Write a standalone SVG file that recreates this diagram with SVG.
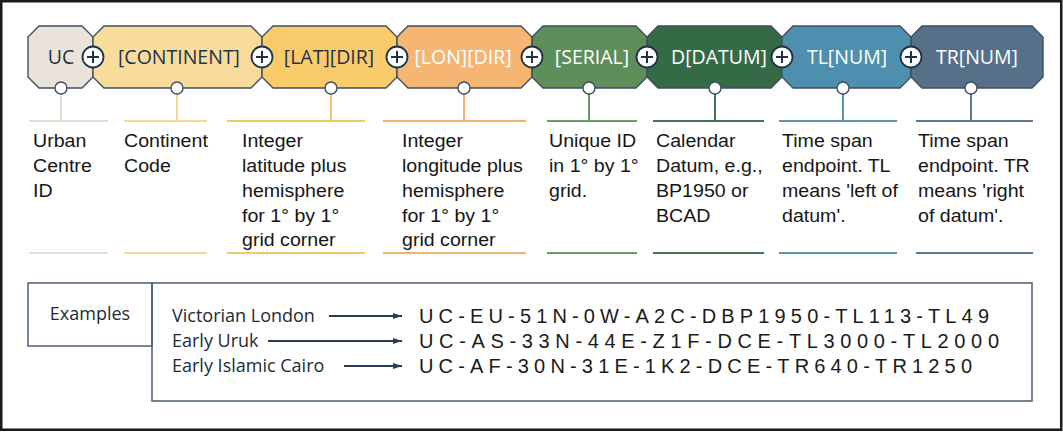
<svg xmlns="http://www.w3.org/2000/svg" width="1063" height="432" viewBox="0 0 1063 432">
<style>
.oct{stroke:#3d4f60;stroke-width:1.4}
.lbl{font-family:"Open Sans","DejaVu Sans",sans-serif;font-size:19.5px;text-anchor:middle}
.dk{fill:#1e3247}
.wt{fill:#ffffff}
.plus circle{fill:#fff;stroke:#1e3247;stroke-width:1.8}
.plus path{stroke:#1e3247;stroke-width:2;fill:none}
.dot{fill:#fff;stroke:#3d4f60;stroke-width:1.4}
.desc{font-family:"Liberation Sans",Arial,sans-serif;font-size:17.5px;fill:#161616}
.conn line{stroke-width:2}
.ex{font-family:"Open Sans","DejaVu Sans",sans-serif;font-size:18px;fill:#1e2a36}
.code{font-family:"Liberation Sans",Arial,sans-serif;font-size:20px;fill:#1a1a1a}
.arr{stroke:#2a3d50;stroke-width:1.3;fill:none}
.box{fill:none;stroke:#4b5f72;stroke-width:1.5}
</style>
<defs>
<marker id="ah" markerUnits="userSpaceOnUse" markerWidth="10" markerHeight="8" refX="9" refY="4" orient="auto">
<path d="M0,1 L9,4 L0,7 Z" fill="#2a3d50"/>
</marker>
</defs>
<rect x="1.25" y="1.25" width="1060" height="428.5" fill="#fff" stroke="#1a1a1a" stroke-width="2.5"/>

<g id="connectors" class="conn">
<line x1="61" y1="94" x2="61" y2="121" stroke="#e6ded3"/>
<line x1="29" y1="121" x2="108" y2="121" stroke="#e6ded3"/>
<line x1="29" y1="253" x2="108" y2="253" stroke="#e6ded3"/>
<line x1="177" y1="94" x2="177" y2="121" stroke="#f8d796"/>
<line x1="124" y1="121" x2="207" y2="121" stroke="#f8d796"/>
<line x1="124" y1="253" x2="207" y2="253" stroke="#f8d796"/>
<line x1="331" y1="94" x2="331" y2="121" stroke="#f8c766"/>
<line x1="227" y1="121" x2="365" y2="121" stroke="#f8c766"/>
<line x1="227" y1="253" x2="365" y2="253" stroke="#f8c766"/>
<line x1="464" y1="94" x2="464" y2="121" stroke="#f4b06c"/>
<line x1="383" y1="121" x2="526" y2="121" stroke="#f4b06c"/>
<line x1="383" y1="253" x2="526" y2="253" stroke="#f4b06c"/>
<line x1="589" y1="94" x2="589" y2="121" stroke="#6a9a65"/>
<line x1="547" y1="121" x2="637" y2="121" stroke="#6a9a65"/>
<line x1="547" y1="253" x2="637" y2="253" stroke="#6a9a65"/>
<line x1="715" y1="94" x2="715" y2="121" stroke="#427754"/>
<line x1="653" y1="121" x2="764" y2="121" stroke="#427754"/>
<line x1="653" y1="253" x2="764" y2="253" stroke="#427754"/>
<line x1="843" y1="94" x2="843" y2="121" stroke="#5a95b4"/>
<line x1="779" y1="121" x2="897" y2="121" stroke="#5a95b4"/>
<line x1="779" y1="253" x2="897" y2="253" stroke="#5a95b4"/>
<line x1="971" y1="94" x2="971" y2="121" stroke="#5f7891"/>
<line x1="916" y1="121" x2="1033" y2="121" stroke="#5f7891"/>
<line x1="916" y1="253" x2="1033" y2="253" stroke="#5f7891"/>
<line class="arr" x1="329" y1="316" x2="402" y2="316" marker-end="url(#ah)"/>
<line class="arr" x1="268" y1="341" x2="402" y2="341" marker-end="url(#ah)"/>
<line class="arr" x1="344" y1="366" x2="402" y2="366" marker-end="url(#ah)"/>
</g>

<g id="node-uc">
<path class="oct" fill="#eae3da" d="M39,26 H82 L93,37 V77 L82,88 H39 L28,77 V37 Z"/>
<text class="lbl dk" x="61" y="64">UC</text>
</g>
<g id="node-continent">
<path class="oct" fill="#f9dc9c" d="M104,26 H251 L262,37 V77 L251,88 H104 L93,77 V37 Z"/>
<text class="lbl dk" x="179" y="64">[CONTINENT]</text>
</g>
<g id="node-lat">
<path class="oct" fill="#facb6b" d="M273,26 H386 L397,37 V77 L386,88 H273 L262,77 V37 Z"/>
<text class="lbl dk" x="329" y="64">[LAT][DIR]</text>
</g>
<g id="node-lon">
<path class="oct" fill="#f5b673" d="M408,26 H521 L532,37 V77 L521,88 H408 L397,77 V37 Z"/>
<text class="lbl wt" x="463" y="64">[LON][DIR]</text>
</g>
<g id="node-serial">
<path class="oct" fill="#5e8e59" d="M543,26 H636 L647,37 V77 L636,88 H543 L532,77 V37 Z"/>
<text class="lbl wt" x="592" y="64">[SERIAL]</text>
</g>
<g id="node-datum">
<path class="oct" fill="#356a47" d="M658,26 H771 L782,37 V77 L771,88 H658 L647,77 V37 Z"/>
<text class="lbl wt" x="719" y="64">D[DATUM]</text>
</g>
<g id="node-tl">
<path class="oct" fill="#4e8faf" d="M793,26 H900 L911,37 V77 L900,88 H793 L782,77 V37 Z"/>
<text class="lbl wt" x="847" y="64">TL[NUM]</text>
</g>
<g id="node-tr">
<path class="oct" fill="#56708a" d="M922,26 H1032 L1043,37 V77 L1032,88 H922 L911,77 V37 Z"/>
<text class="lbl wt" x="977" y="64">TR[NUM]</text>
</g>

<g id="plus-joins" class="plus">
<g transform="translate(93,57)"><circle r="10.5"/><path d="M-6,0 H6 M0,-6 V6"/></g>
<g transform="translate(262,57)"><circle r="10.5"/><path d="M-6,0 H6 M0,-6 V6"/></g>
<g transform="translate(397,57)"><circle r="10.5"/><path d="M-6,0 H6 M0,-6 V6"/></g>
<g transform="translate(532,57)"><circle r="10.5"/><path d="M-6,0 H6 M0,-6 V6"/></g>
<g transform="translate(647,57)"><circle r="10.5"/><path d="M-6,0 H6 M0,-6 V6"/></g>
<g transform="translate(782,57)"><circle r="10.5"/><path d="M-6,0 H6 M0,-6 V6"/></g>
<g transform="translate(911,57)"><circle r="10.5"/><path d="M-6,0 H6 M0,-6 V6"/></g>
</g>

<g id="ports">
<circle class="dot" cx="61" cy="88" r="6"/>
<circle class="dot" cx="177" cy="88" r="6"/>
<circle class="dot" cx="331" cy="88" r="6"/>
<circle class="dot" cx="464" cy="88" r="6"/>
<circle class="dot" cx="589" cy="88" r="6"/>
<circle class="dot" cx="715" cy="88" r="6"/>
<circle class="dot" cx="843" cy="88" r="6"/>
<circle class="dot" cx="971" cy="88" r="6"/>
</g>

<g id="desc-uc" class="desc" transform="matrix(1.12 0 0 1 33 0)">
<text x="0" y="147">Urban</text><text x="0" y="172">Centre</text><text x="0" y="197">ID</text>
</g>
<g id="desc-continent" class="desc" transform="matrix(1.12 0 0 1 124 0)">
<text x="0" y="147">Continent</text><text x="0" y="172">Code</text>
</g>
<g id="desc-lat" class="desc" transform="matrix(1.12 0 0 1 242 0)">
<text x="0" y="147">Integer</text><text x="0" y="172">latitude plus</text><text x="0" y="197">hemisphere</text><text x="0" y="222">for 1° by 1°</text><text x="0" y="246">grid corner</text>
</g>
<g id="desc-lon" class="desc" transform="matrix(1.12 0 0 1 402 0)">
<text x="0" y="147">Integer</text><text x="0" y="172">longitude plus</text><text x="0" y="197">hemisphere</text><text x="0" y="222">for 1° by 1°</text><text x="0" y="246">grid corner</text>
</g>
<g id="desc-serial" class="desc" transform="matrix(1.12 0 0 1 549 0)">
<text x="0" y="147">Unique ID</text><text x="0" y="172">in 1° by 1°</text><text x="0" y="197">grid.</text>
</g>
<g id="desc-datum" class="desc" transform="matrix(1.12 0 0 1 656 0)">
<text x="0" y="147">Calendar</text><text x="0" y="172">Datum, e.g.,</text><text x="0" y="197">BP1950 or</text><text x="0" y="222">BCAD</text>
</g>
<g id="desc-tl" class="desc" transform="matrix(1.12 0 0 1 782 0)">
<text x="0" y="147">Time span</text><text x="0" y="172">endpoint. TL</text><text x="0" y="197">means 'left of</text><text x="0" y="222">datum'.</text>
</g>
<g id="desc-tr" class="desc" transform="matrix(1.12 0 0 1 918 0)">
<text x="0" y="147">Time span</text><text x="0" y="172">endpoint. TR</text><text x="0" y="197">means 'right</text><text x="0" y="222">of datum'.</text>
</g>

<g id="examples-label">
<rect class="box" x="28" y="283" width="124" height="63"/>
<text class="ex" x="90" y="320" text-anchor="middle" font-size="19px">Examples</text>
</g>
<g id="examples-box">
<rect class="box" x="152" y="283" width="880" height="118"/>
<text class="ex" x="172" y="322">Victorian London</text>
<text class="ex" x="172" y="347">Early Uruk</text>
<text class="ex" x="172" y="372">Early Islamic Cairo</text>
<text class="code" x="419" y="323" textLength="570" lengthAdjust="spacing">UC-EU-51N-0W-A2C-DBP1950-TL113-TL49</text>
<text class="code" x="419" y="348" textLength="580" lengthAdjust="spacing">UC-AS-33N-44E-Z1F-DCE-TL3000-TL2000</text>
<text class="code" x="419" y="373" textLength="553" lengthAdjust="spacing">UC-AF-30N-31E-1K2-DCE-TR640-TR1250</text>
</g>
</svg>
